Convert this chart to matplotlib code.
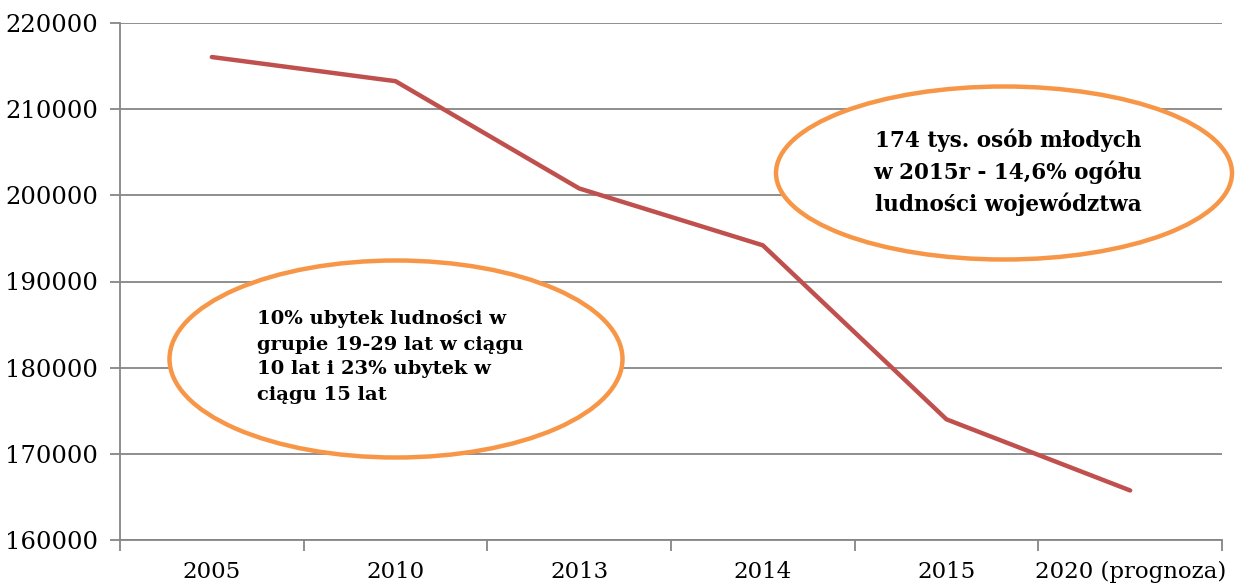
import numpy as np
import matplotlib
matplotlib.use('Agg')
import matplotlib.pyplot as plt
from matplotlib.patches import Ellipse

# dane: liczba osob mlodych (19-29 lat)
lata = ['2005', '2010', '2013', '2014', '2015', '2020 (prognoza)']
ludnosc = [216050, 213250, 200800, 194200, 174000, 165750]

tekst_lewy = '10% ubytek ludności w\ngrupie 19-29 lat w ciągu\n10 lat i 23% ubytek w\nciągu 15 lat'
tekst_prawy = '174 tys. osób młodych\nw 2015r - 14,6% ogółu\nludności województwa'

plt.rcParams['font.family'] = ['DejaVu Serif']

W, H = 1240, 586
fig = plt.figure(figsize=(W / 100, H / 100), dpi=100)
ax = fig.add_axes([120 / W, 1 - 540 / H, 1102 / W, 517 / H])

x = np.arange(len(lata))
ax.plot(x, ludnosc, color='#C0504D', lw=3.2, solid_capstyle='round', zorder=3)

ax.set_xlim(-0.5, len(lata) - 0.5)
ax.set_ylim(160000, 220000)
ax.set_yticks(np.arange(160000, 220001, 10000))
ax.yaxis.grid(True, color='#868686', lw=1.3)
ax.set_axisbelow(True)

ax.set_xticks(x)
ax.set_xticklabels(lata)
ax.set_xticks(np.arange(-0.5, len(lata)), minor=True)
ax.tick_params(axis='x', which='major', length=0, labelsize=16.5, pad=15)
ax.tick_params(axis='x', which='minor', length=8, width=1.3, color='#868686')
ax.tick_params(axis='y', length=7, width=1.3, color='#868686', labelsize=17.5, pad=9)

for s in ['top', 'right']:
    ax.spines[s].set_visible(False)
for s in ['left', 'bottom']:
    ax.spines[s].set_color('#868686')
    ax.spines[s].set_linewidth(1.3)

# elipsy z komentarzami (w pikselach figury)
def px(xp, yp):
    return xp / W, 1 - yp / H

e1 = Ellipse(px(396, 359), 453 / W, 197 / H, transform=fig.transFigure,
             facecolor='white', edgecolor='#F79646', lw=3.2, zorder=5)
e2 = Ellipse(px(1004, 173), 456 / W, 173 / H, transform=fig.transFigure,
             facecolor='white', edgecolor='#F79646', lw=3.2, zorder=5)
fig.patches.extend([e1, e2])

fig.text(*px(257, 357), tekst_lewy, ha='left', va='center', fontsize=14,
         fontweight='bold', linespacing=1.5, zorder=6)
fig.text(*px(1008, 172), tekst_prawy, ha='center', va='center', fontsize=15.5,
         fontweight='bold', linespacing=1.45, zorder=6)

plt.savefig('out.png', dpi=100)
